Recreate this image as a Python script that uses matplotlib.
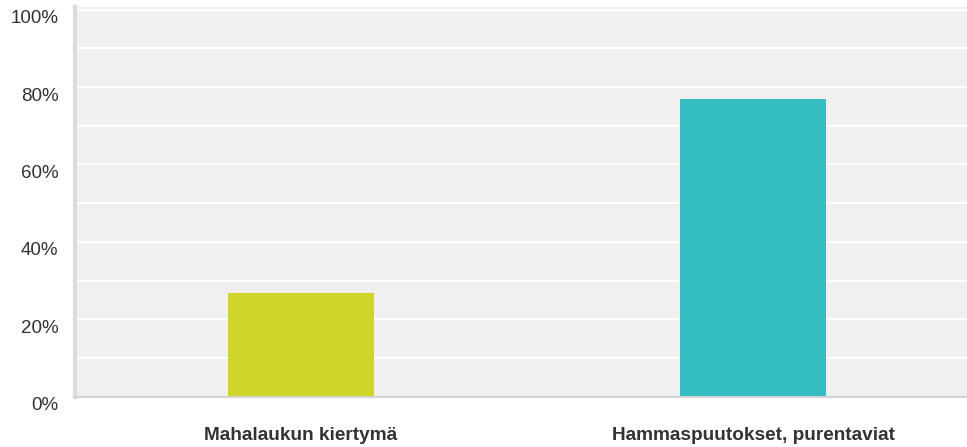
import numpy as np
import matplotlib.pyplot as plt
import matplotlib.transforms as mtransforms

categories = ["Mahalaukun kiertymä", "Hammaspuutokset, purentaviat"]
values = [26.9, 76.9]
colors = ["#d0d52a", "#34bec0"]
yticks = [0, 20, 40, 60, 80, 100]
ytick_labels = ["0%", "20%", "40%", "60%", "80%", "100%"]

plt.rcParams['font.family'] = ['Liberation Sans', 'DejaVu Sans']

W, H = 967, 447
fig = plt.figure(figsize=(W / 100, H / 100), dpi=100)
# plot area runs a little past the right edge of the picture
left, right, top, bottom = 75, 979, 7, 396.7
ax = fig.add_axes([left / W, (H - bottom) / H, (right - left) / W, (bottom - top) / H])
ax.set_facecolor("#f0f0f0")

x = np.arange(len(categories))
ax.set_xlim(-0.5, len(categories) - 0.5)
ax.set_ylim(0, 100 * (bottom - top) / 387)

for y in range(10, 101, 10):
    ax.axhline(y, color="white", lw=1.6, zorder=1)

ax.bar(x, values, width=0.323, color=colors, zorder=2)

ax.set_yticks(yticks)
ax.set_yticklabels(ytick_labels, fontsize=13.5, color="#333333")
ax.set_xticks(x)
ax.set_xticklabels(categories, fontsize=13.7, fontweight="bold", color="#333333")
ax.tick_params(axis="y", length=0, pad=12)
ax.tick_params(axis="x", length=0, pad=22)

# y labels sit a bit below their gridlines
shift = mtransforms.ScaledTranslation(0, -7 / 100, fig.dpi_scale_trans)
for lab in ax.get_yticklabels():
    lab.set_transform(lab.get_transform() + shift)

for s in ["top", "right"]:
    ax.spines[s].set_visible(False)
ax.spines["left"].set_color("#dcdcdc")
ax.spines["left"].set_linewidth(3)
ax.spines["bottom"].set_color("#d4d4d4")
ax.spines["bottom"].set_linewidth(1.5)

fig.savefig("out.png", dpi=100)
